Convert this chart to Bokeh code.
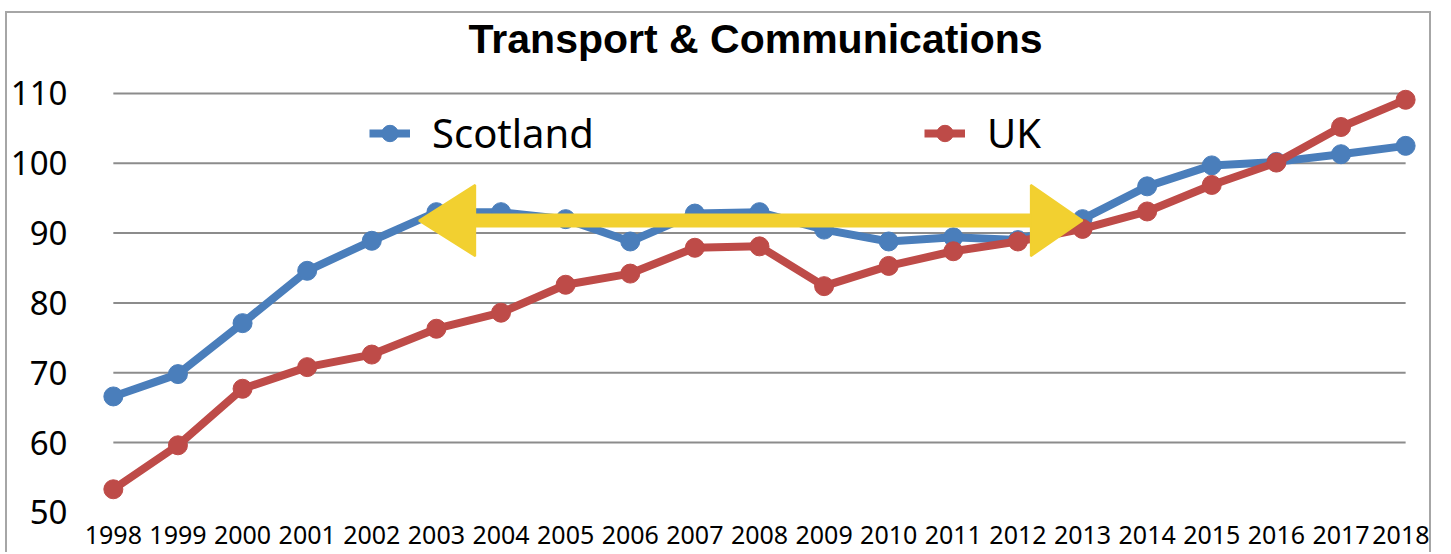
from bokeh.plotting import figure
from bokeh.models import FixedTicker, Legend, LegendItem, Label, Range1d
from bokeh.embed import file_html
from bokeh.resources import INLINE

# ---- data ----
title_text = "Transport & Communications"
years = list(range(1998, 2019))
scotland = [66.6, 69.8, 77.1, 84.6, 88.9, 93.0, 93.0, 92.0, 88.8, 92.8, 93.0,
            90.5, 88.8, 89.4, 89.0, 92.0, 96.7, 99.7, 100.2, 101.3, 102.5]
uk = [53.3, 59.6, 67.7, 70.8, 72.6, 76.3, 78.6, 82.6, 84.2, 87.9, 88.1,
      82.4, 85.3, 87.4, 88.8, 90.6, 93.1, 96.9, 100.1, 105.2, 109.1]
y_ticks = [50, 60, 70, 80, 90, 100, 110]
series_names = ["Scotland", "UK"]

# annotation (yellow double arrow) in data units
arrow_tip_left, arrow_base_left = 2002.73, 2003.6
arrow_base_right, arrow_tip_right = 2012.2, 2013.0
arrow_level, arrow_half = 91.8, 5.1
title_x, title_y = 2007.94, 117.8

BLUE = "#4a7ebb"
RED = "#be4b48"
YELLOW = "#f2d030"
FONT = "Noto Sans"
TITLE_FONT = "Liberation Sans"

p = figure(width=1426, height=541, output_backend="svg", toolbar_location=None,
           x_range=Range1d(1997.693, 2018.385), y_range=Range1d(49.83, 121.46),
           min_border_left=77, min_border_right=3, min_border_top=0,
           min_border_bottom=41)
p.margin = (11, 0, 0, 5)
p.styles = {"border-top": "2px solid #a6a6a6", "border-left": "2px solid #a6a6a6",
            "border-right": "2px solid #a6a6a6"}
p.outline_line_color = None
p.background_fill_color = "white"
p.border_fill_color = "white"
p.grid.visible = False

# grid lines (Excel style: span the category extent only)
g = y_ticks[1:]
p.segment(x0=[years[0]] * len(g), x1=[years[-1]] * len(g), y0=g, y1=g,
          line_color="#8c8c8c", line_width=2)

# series
lr1 = p.line(years, scotland, line_color=BLUE, line_width=8)
sr1 = p.scatter(years, scotland, size=19, fill_color=BLUE, line_color=BLUE)
lr2 = p.line(years, uk, line_color=RED, line_width=8)
sr2 = p.scatter(years, uk, size=19, fill_color=RED, line_color=RED)

# yellow arrow
p.line([arrow_base_left - 0.1, arrow_base_right + 0.1], [arrow_level, arrow_level],
       line_color=YELLOW, line_width=14)
p.patches(xs=[[arrow_tip_left, arrow_base_left, arrow_base_left],
              [arrow_tip_right, arrow_base_right, arrow_base_right]],
          ys=[[arrow_level, arrow_level + arrow_half, arrow_level - arrow_half],
              [arrow_level, arrow_level + arrow_half, arrow_level - arrow_half]],
          fill_color=YELLOW, line_color=YELLOW, line_width=2)

# axes
p.xaxis.ticker = FixedTicker(ticks=years)
p.yaxis.ticker = FixedTicker(ticks=y_ticks)
for ax in (p.xaxis[0], p.yaxis[0]):
    ax.axis_line_color = None
    ax.major_tick_line_color = None
    ax.minor_tick_line_color = None
    ax.major_label_text_font = FONT
    ax.major_label_text_color = "black"
p.xaxis.major_label_text_font_size = "25px"
p.xaxis.major_label_standoff = 6
p.yaxis.major_label_text_font_size = "33px"
p.yaxis.major_label_standoff = 20

# title
p.add_layout(Label(x=title_x, y=title_y, text=title_text, text_align="center",
                   text_baseline="alphabetic", text_font=TITLE_FONT,
                   text_font_style="bold", text_font_size="41px", text_color="black"))

# legends (two separate boxes to place entries like the original)
def make_legend(name, rends, loc):
    return Legend(items=[LegendItem(label=name, renderers=rends)], location=loc,
                  orientation="horizontal", label_text_font=FONT,
                  label_text_font_size="40px", label_text_color="black",
                  glyph_width=41, glyph_height=54, label_height=54,
                  label_standoff=22, padding=0, margin=0, spacing=0,
                  border_line_color=None, background_fill_alpha=0)

p.add_layout(make_legend(series_names[0], [lr1, sr1], (276, 353)), "center")
p.add_layout(make_legend(series_names[1], [lr2, sr2], (831, 353)), "center")

open("out.html", "w").write(file_html(p, INLINE))
